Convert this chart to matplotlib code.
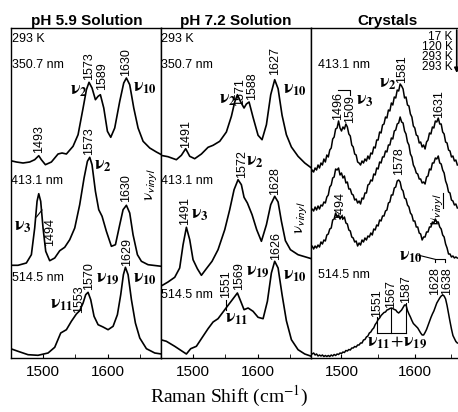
import matplotlib
matplotlib.use("Agg")
import matplotlib.pyplot as plt

plt.rcParams['font.family'] = ['Liberation Sans', 'DejaVu Sans']
plt.rcParams['mathtext.fontset'] = 'stix'

# ---- pH 5.9 solution (wavenumber, intensity) ----
p59_wn_350 = [1451.0, 1459.7, 1469.9, 1480.1, 1487.8, 1494.0, 1498.0, 1504.2, 1513.4, 1523.6, 1529.7, 1536.4,
              1546.6, 1554.3, 1562.0, 1567.1, 1571.1, 1575.7, 1580.9, 1585.0, 1588.5, 1593.7, 1599.3, 1604.4,
              1610.5, 1618.2, 1624.3, 1628.4, 1633.5, 1639.7, 1646.3, 1654.0, 1664.2, 1674.4, 1682.1]
p59_350 = [197.3, 196.0, 195.0, 196.0, 198.3, 202.3, 198.3, 193.3, 196.0, 204.0, 205.0, 204.0,
           211.7, 223.3, 250.0, 268.3, 275.7, 270.0, 258.3, 261.7, 263.3, 250.0, 226.7, 220.7,
           230.0, 256.7, 275.0, 280.0, 273.3, 250.0, 230.0, 216.7, 210.0, 206.0, 203.3]
p59_wn_413 = [1451.0, 1462.2, 1475.0, 1482.7, 1487.8, 1491.4, 1494.0, 1497.0, 1500.6, 1504.7, 1510.8, 1518.5,
              1526.2, 1533.8, 1541.5, 1549.2, 1556.8, 1563.5, 1568.6, 1572.2, 1575.7, 1580.9, 1586.0, 1591.1,
              1597.7, 1605.4, 1611.6, 1618.2, 1623.3, 1628.4, 1633.5, 1638.6, 1645.3, 1651.4, 1661.6, 1682.1]
p59_413 = [92.7, 92.7, 95.0, 103.3, 130.0, 156.7, 164.3, 156.7, 130.0, 106.7, 97.3, 100.0,
           107.3, 110.7, 118.3, 130.0, 153.3, 180.0, 196.7, 200.7, 193.3, 166.7, 148.3, 141.7,
           126.7, 111.7, 113.3, 133.3, 148.3, 152.7, 145.0, 123.3, 103.3, 96.7, 93.3, 91.7]
p59_wn_514 = [1451.0, 1462.2, 1477.6, 1492.9, 1508.3, 1518.5, 1527.7, 1536.4, 1544.0, 1551.7, 1556.8, 1562.0,
              1566.0, 1569.6, 1573.7, 1578.8, 1585.0, 1592.6, 1600.3, 1608.0, 1614.6, 1619.7, 1623.8, 1626.9,
              1631.0, 1636.1, 1642.2, 1648.9, 1659.1, 1671.9, 1682.1]
p59_514 = [9.3, 6.7, 3.3, 2.7, 5.0, 10.7, 25.0, 28.3, 36.7, 44.0, 47.3, 55.0,
           63.3, 65.7, 58.3, 41.7, 33.3, 31.0, 28.3, 31.7, 43.3, 63.3, 83.3, 90.7,
           83.3, 58.3, 35.0, 20.0, 9.3, 5.0, 4.0]

# ---- pH 7.2 solution ----
p72_wn_350 = [1451.0, 1462.2, 1475.0, 1482.7, 1489.3, 1495.5, 1503.1, 1513.4, 1523.6, 1531.3, 1541.5, 1551.7,
              1559.4, 1564.5, 1568.6, 1573.7, 1578.8, 1582.4, 1586.5, 1592.6, 1600.3, 1606.4, 1613.1, 1619.7,
              1625.8, 1631.0, 1637.1, 1643.7, 1651.4, 1661.6, 1671.9, 1682.1]
p72_350 = [202.7, 201.3, 198.3, 202.7, 209.3, 201.7, 199.3, 204.0, 210.7, 212.7, 216.7, 226.0,
           241.7, 256.0, 263.3, 256.0, 250.0, 254.0, 256.0, 240.7, 222.7, 218.3, 233.3, 263.3,
           278.3, 269.3, 242.7, 223.3, 211.0, 201.7, 195.0, 190.0]
p72_wn_413 = [1451.0, 1462.2, 1472.5, 1480.1, 1485.3, 1490.4, 1495.5, 1500.6, 1507.2, 1513.4, 1521.0, 1529.7,
              1538.9, 1549.2, 1556.8, 1563.5, 1569.6, 1574.7, 1578.8, 1583.9, 1591.1, 1598.2, 1605.4, 1613.1,
              1619.7, 1625.8, 1631.0, 1636.1, 1642.2, 1649.9, 1661.6, 1682.1]
p72_413 = [71.7, 76.0, 80.7, 90.0, 113.3, 130.7, 118.3, 98.3, 89.3, 82.7, 89.3, 96.7,
           108.3, 128.3, 148.3, 168.3, 178.3, 173.3, 160.7, 155.0, 143.3, 128.3, 116.7, 133.3,
           153.3, 161.7, 156.0, 136.7, 117.3, 108.3, 103.3, 99.3]
p72_wn_514 = [1451.0, 1459.7, 1472.5, 1482.7, 1490.4, 1497.0, 1505.7, 1513.4, 1523.6, 1531.3, 1538.9, 1546.6,
              1554.3, 1562.0, 1568.6, 1573.7, 1578.8, 1585.0, 1592.6, 1600.3, 1608.0, 1614.6, 1620.7, 1625.8,
              1631.0, 1637.1, 1643.7, 1651.4, 1661.6, 1671.9, 1682.1]
p72_514 = [18.3, 16.7, 11.7, 7.3, 4.0, 9.3, 11.7, 19.3, 29.3, 36.0, 39.3, 46.0,
           52.7, 59.3, 65.0, 56.7, 48.3, 50.0, 46.7, 40.7, 39.3, 56.7, 85.0, 96.7,
           90.0, 63.3, 37.3, 18.3, 8.3, 4.0, 1.7]

# ---- crystals, sampled every 2 cm-1 from 1458 ----
xtal_wn = list(range(1458, 1660, 2))
xtal_17K = [184, 188, 186, 190, 188, 193, 190, 195, 193, 199, 196, 203, 201, 208, 210, 219, 221, 229, 230, 237,
            230, 227, 231, 229, 234, 231, 224, 222, 213, 211, 204, 203, 196, 195, 193, 197, 195, 199, 197, 202,
            199, 205, 204, 211, 210, 218, 218, 226, 225, 233, 234, 241, 240, 248, 247, 255, 253, 261, 260, 268,
            267, 274, 272, 269, 260, 261, 253, 252, 244, 241, 232, 230, 223, 222, 215, 216, 211, 213, 209, 216,
            218, 225, 224, 231, 230, 237, 236, 240, 234, 234, 226, 224, 216, 215, 208, 207, 201, 202, 197, 198,
            193]
xtal_120K = [147, 149, 147, 151, 148, 152, 149, 153, 152, 156, 155, 161, 163, 171, 173, 180, 181, 189, 188, 190,
             183, 185, 180, 182, 175, 176, 169, 169, 164, 163, 158, 159, 155, 157, 154, 160, 159, 165, 165, 173,
             174, 178, 177, 184, 183, 190, 189, 196, 195, 201, 201, 207, 206, 213, 213, 220, 219, 227, 228, 234,
             235, 241, 236, 235, 227, 224, 216, 213, 204, 201, 193, 190, 185, 184, 179, 179, 175, 176, 174, 181,
             182, 189, 188, 195, 195, 200, 199, 202, 195, 194, 188, 185, 177, 173, 166, 165, 158, 157, 153, 154,
             150]
xtal_293K = [110, 112, 109, 112, 110, 113, 111, 116, 114, 118, 117, 123, 124, 129, 130, 138, 139, 145, 141, 143,
             139, 142, 139, 141, 135, 134, 128, 127, 121, 120, 116, 117, 112, 115, 113, 118, 116, 120, 118, 122,
             121, 125, 123, 129, 128, 133, 132, 138, 137, 142, 142, 147, 148, 155, 156, 163, 163, 170, 171, 177,
             178, 176, 169, 167, 160, 159, 153, 151, 145, 143, 137, 137, 131, 131, 125, 124, 118, 121, 121, 126,
             126, 131, 131, 136, 135, 139, 136, 136, 131, 129, 123, 121, 114, 110, 104, 104, 101, 102, 100, 101,
             100]
xtal_514 = [5, 4, 5, 3, 4, 2, 3, 2, 3, 1.5, 2.5, 1.5, 2.5, 1.5, 3, 2, 3.5, 2.5, 4, 3.5,
            5, 4.5, 6, 5.5, 7.5, 7, 8.5, 8, 10, 10, 11.5, 11, 13, 13, 15, 15, 18, 18.5, 21, 22,
            25, 26, 28.5, 30, 33.5, 35.5, 38.5, 40, 42.5, 44, 45.5, 46, 48, 48.5, 49.5, 50, 49.5, 48.5, 48, 46,
            45, 46.5, 48, 50.5, 53, 53, 47.5, 44, 41, 37.5, 34.5, 33, 31.5, 30, 27.5, 25, 23, 23, 25.5, 28.5,
            32.5, 36.5, 40.5, 44, 47, 51, 55, 57.5, 60, 62, 63, 62, 59, 52.5, 44.5, 36.5, 29, 22.5, 19.5, 16.5,
            15]
xtal_temps = ['17 K', '120 K', '293 K', '293 K']

W, H = 458.0, 412.0
fig = plt.figure(figsize=(W / 100, H / 100), dpi=100)


def make_ax(left_px, xlim):
    ax = fig.add_axes([left_px / W, 1 - 358 / H, 150 / W, 330 / H])
    ax.set_xlim(*xlim)
    ax.set_ylim(0, 330)
    ax.set_yticks([])
    ax.set_xticks([1500, 1600])
    ax.set_xticks([1550, 1650], minor=True)
    ax.tick_params(axis='x', which='both', direction='in', length=3, labelsize=11, pad=5)
    for s in ax.spines.values():
        s.set_linewidth(1.0)
    return ax


def num(ax, x, y, s):
    ax.text(x, y, s, rotation=90, ha='center', va='bottom', fontsize=9)


def nu(ax, x, y, sub, ha='center'):
    ax.text(x, y, r'$\mathbf{\nu}_{\mathbf{%s}}$' % sub, ha=ha, va='center', fontsize=13)


def lbl(ax, x, y, s, ha='left'):
    ax.text(x, y, s, ha=ha, va='center', fontsize=9)


def vinyl(ax, x, y):
    ax.text(x, y, r'$\mathrm{\nu}_{\mathsf{vinyl}}$', rotation=90, ha='center', va='center', fontsize=12)


lw = 1.2

# ---------- pH 5.9 ----------
ax1 = make_ax(10.7, (1451, 1681))
ax1.plot(p59_wn_350, p59_350, color='k', lw=lw)
ax1.plot(p59_wn_413, p59_413, color='k', lw=lw)
ax1.plot(p59_wn_514, p59_514, color='k', lw=lw)
lbl(ax1, 1453, 319, '293 K')
lbl(ax1, 1453, 292.5, '350.7 nm')
nu(ax1, 1556, 268, '2')
num(ax1, 1571.3, 278, '1573')
num(ax1, 1590.6, 268, '1589')
num(ax1, 1628.3, 282, '1630')
nu(ax1, 1638.6, 271, '10', ha='left')
num(ax1, 1494.1, 205, '1493')
num(ax1, 1571.3, 203, '1573')
nu(ax1, 1591.5, 192.5, '2')
lbl(ax1, 1451.5, 177, '413.1 nm')
num(ax1, 1628.3, 156, '1630')
vinyl(ax1, 1666.6, 173)
nu(ax1, 1469.9, 131, '3')
ax1.plot([1490.5, 1499], [141, 148], color='k', lw=0.8)
num(ax1, 1512, 112, '1494')
lbl(ax1, 1453, 80, '514.5 nm')
num(ax1, 1571, 68, '1570')
nu(ax1, 1582.3, 79, '19', ha='left')
num(ax1, 1629.4, 92, '1629')
nu(ax1, 1638.6, 79, '10', ha='left')
nu(ax1, 1529.7, 53.3, '11')
num(ax1, 1555.5, 45, '1553')

# ---------- pH 7.2 ----------
ax2 = make_ax(160.7, (1451, 1681))
ax2.plot(p72_wn_350, p72_350, color='k', lw=lw)
ax2.plot(p72_wn_413, p72_413, color='k', lw=lw)
ax2.plot(p72_wn_514, p72_514, color='k', lw=lw)
lbl(ax2, 1452, 319, '293 K')
lbl(ax2, 1452, 292.5, '350.7 nm')
nu(ax2, 1553.5, 259, '2')
num(ax2, 1573.4, 252, '1571')
num(ax2, 1591, 258, '1588')
num(ax2, 1625.8, 283, '1627')
nu(ax2, 1638.6, 269, '10', ha='left')
num(ax2, 1490.3, 210, '1491')
num(ax2, 1575.7, 180, '1572')
nu(ax2, 1596, 196, '2')
lbl(ax2, 1452, 177, '413.1 nm')
num(ax2, 1627, 163, '1628')
vinyl(ax2, 1666.6, 140)
num(ax2, 1489, 133, '1491')
nu(ax2, 1497.9, 143, '3', ha='left')
num(ax2, 1570.8, 68, '1569')
nu(ax2, 1582.3, 86, '19', ha='left')
num(ax2, 1628.3, 98, '1626')
nu(ax2, 1638.6, 82.5, '10', ha='left')
lbl(ax2, 1452, 63.3, '514.5 nm')
num(ax2, 1551.6, 60, '1551')
ax2.plot([1551.6, 1551.6], [58, 48], color='k', lw=0.8)
nu(ax2, 1567, 39, '11')

# ---------- Crystals ----------
ax3 = make_ax(310.7, (1458, 1662.6))
for trace in [xtal_17K, xtal_120K, xtal_293K, xtal_514]:
    ax3.plot(xtal_wn, trace, color='k', lw=1.1)
ax3.text(1651.7, 327, '\n'.join(xtal_temps), ha='right', va='top', fontsize=8.5, linespacing=0.78)
ax3.annotate('', xy=(1657.2, 285), xytext=(1657.2, 328),
             arrowprops=dict(arrowstyle='-|>', lw=1.2, color='k', mutation_scale=7, shrinkA=0, shrinkB=0))
lbl(ax3, 1467.5, 293.3, '413.1 nm')
nu(ax3, 1563, 275, '2')
num(ax3, 1582.3, 275, '1581')
num(ax3, 1495.9, 238.3, '1496')
num(ax3, 1511.9, 235, '1509')
ax3.plot([1495.9, 1511.9, 1511.9], [268, 268, 263], color='k', lw=0.8)
nu(ax3, 1519.8, 257.5, '3', ha='left')
num(ax3, 1633.4, 240, '1631')
num(ax3, 1498, 138.3, '1494')
num(ax3, 1578.9, 183.3, '1578')
vinyl(ax3, 1630, 148.3)
ax3.plot([1638, 1638], [165, 150], color='k', lw=0.8)
nu(ax3, 1578, 101, '10', ha='left')
ax3.plot([1604, 1627.6], [103, 98.7], color='k', lw=0.8)
ax3.plot([1627.6, 1627.6, 1641.2, 1641.2], [96, 98.7, 98.7, 96], color='k', lw=0.8)
num(ax3, 1627.5, 63, '1628')
num(ax3, 1643.5, 63, '1638')
lbl(ax3, 1467.5, 83.3, '514.5 nm')
num(ax3, 1549.1, 41.3, '1551')
num(ax3, 1567.3, 49.7, '1567')
num(ax3, 1587.7, 54.7, '1587')
for xx, top in zip([1549.1, 1567.3, 1587.7], [41.3, 49.7, 54.7]):
    ax3.plot([xx, xx], [top, 24.7], color='k', lw=0.8)
ax3.plot([1549.1, 1587.7], [24.7, 24.7], color='k', lw=0.8)
ax3.text(1576.4, 15.5, r'$\mathbf{\nu}_{\mathbf{11}}\!+\!\mathbf{\nu}_{\mathbf{19}}$',
         ha='center', va='center', fontsize=13)

# titles and axis label
for xc, t in [(87, 'pH 5.9 Solution'), (236, 'pH 7.2 Solution'), (388, 'Crystals')]:
    fig.text(xc / W, 1 - 25 / H, t, ha='center', va='baseline', fontsize=11, fontweight='bold')
fig.text(229 / W, 1 - 396 / H, r'Raman Shift (cm$^{\mathrm{-1}}$)', ha='center', va='center',
         fontsize=14, family='Liberation Serif')

fig.savefig('out.png', dpi=100)
